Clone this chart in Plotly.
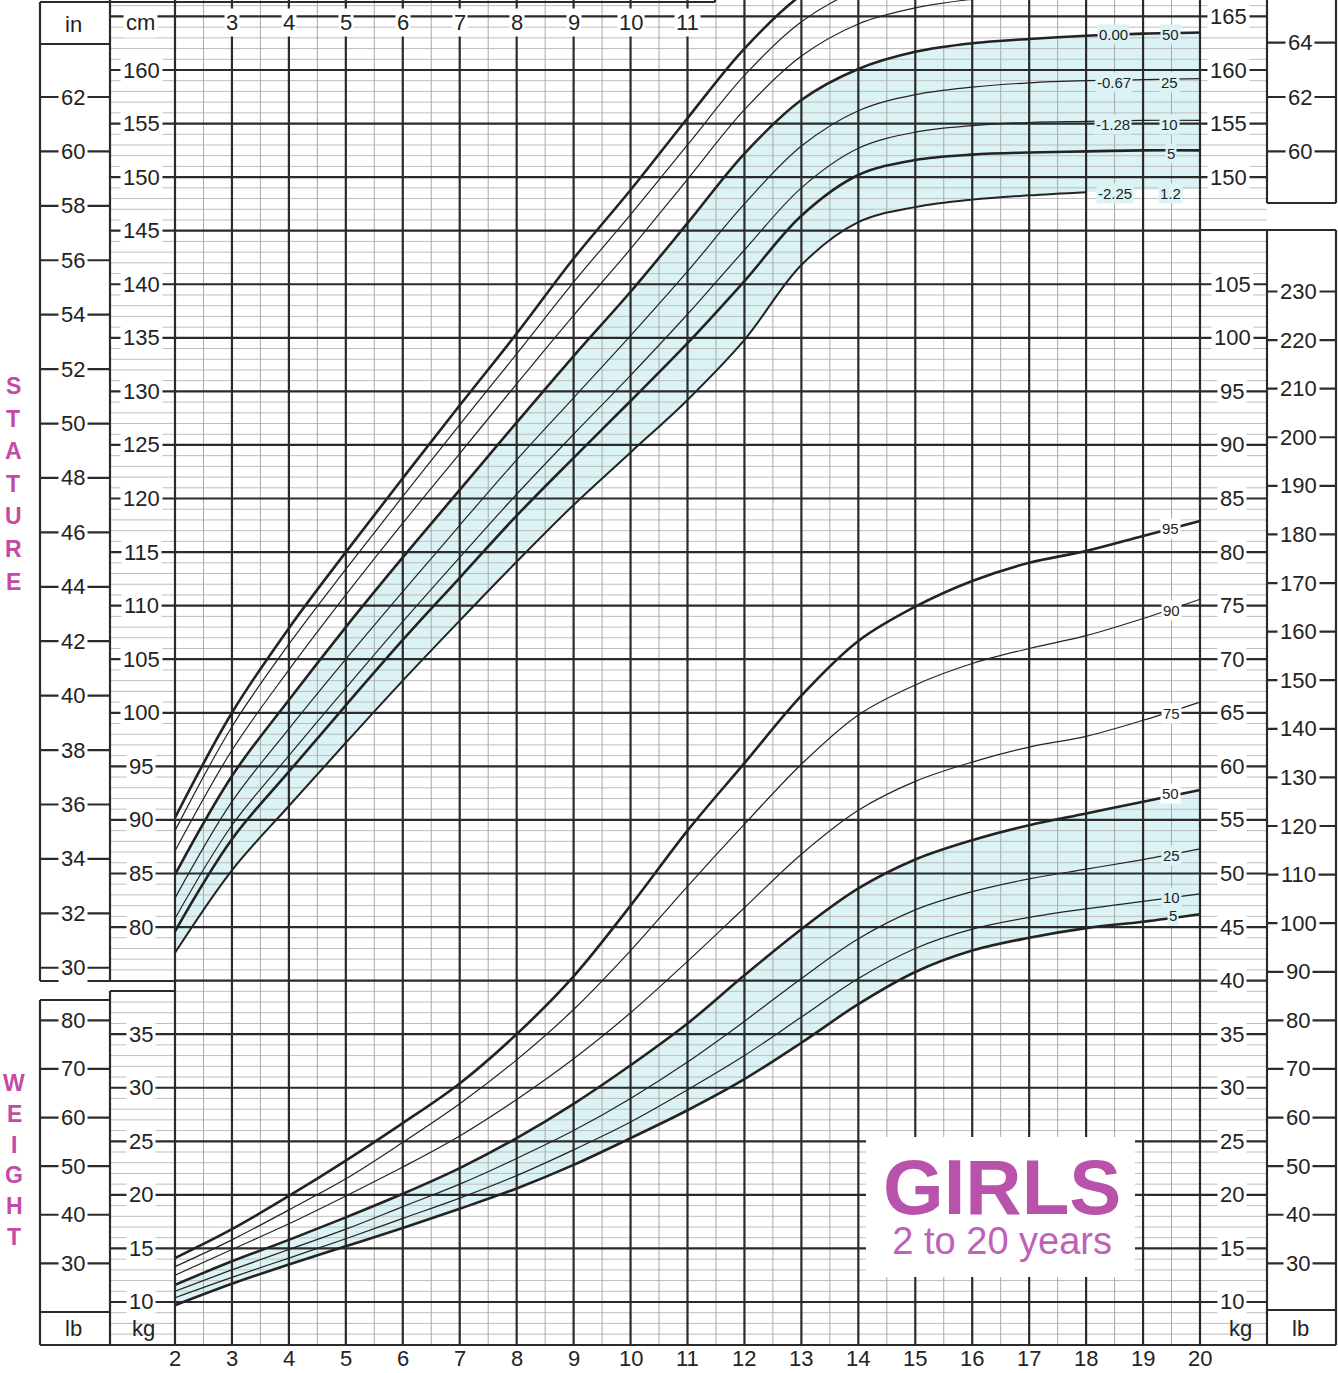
import plotly.graph_objects as go

# ---------------- data ----------------
ages = [2, 3, 4, 5, 6, 7, 8, 9, 10, 11, 12, 13, 14, 15, 16, 17, 18, 19, 20]

# stature-for-age percentiles (cm)
stature_p95 = [90.2, 100.0, 107.9, 115.0, 121.9, 128.7, 135.4, 142.4, 148.8, 155.5, 162.0, 167.0, 169.9, 171.5, 172.3, 172.8, 173.2, 173.5, 173.8]
stature_p90 = [89.0, 98.7, 106.4, 113.4, 120.2, 126.9, 133.5, 140.2, 146.5, 153.0, 159.5, 164.5, 167.5, 169.1, 170.0, 170.5, 170.9, 171.2, 171.4]
stature_p75 = [87.1, 96.5, 104.0, 111.0, 117.7, 124.2, 130.7, 137.1, 143.3, 149.8, 156.3, 161.3, 164.3, 165.8, 166.6, 167.1, 167.4, 167.6, 167.7]
stature_p50 = [84.9, 94.1, 101.2, 108.0, 114.5, 120.8, 127.1, 133.3, 139.3, 145.7, 152.2, 157.2, 160.1, 161.7, 162.5, 162.9, 163.2, 163.4, 163.5]
stature_p25 = [82.7, 91.7, 98.5, 105.0, 111.3, 117.5, 123.6, 129.4, 135.2, 141.2, 147.5, 152.9, 156.2, 157.7, 158.4, 158.8, 159.0, 159.1, 159.2]
stature_p10 = [80.8, 89.5, 96.0, 102.3, 108.5, 114.5, 120.4, 126.0, 131.5, 137.2, 143.2, 149.0, 152.7, 154.2, 154.8, 155.1, 155.2, 155.3, 155.3]
stature_p5 = [79.6, 88.2, 94.5, 100.7, 106.8, 112.6, 118.4, 123.8, 129.1, 134.5, 140.3, 146.4, 150.2, 151.6, 152.1, 152.3, 152.4, 152.5, 152.5]
stature_p1_2 = [77.6, 85.3, 91.3, 97.2, 103.0, 108.6, 114.1, 119.4, 124.3, 129.2, 134.8, 141.8, 145.8, 147.2, 147.9, 148.3, 148.6, 148.8, 148.9]

# weight-for-age percentiles (kg)
weight_p95 = [14.1, 16.8, 19.9, 23.2, 26.7, 30.4, 35.0, 40.4, 47.0, 54.0, 60.3, 66.6, 71.7, 74.9, 77.3, 79.0, 80.1, 81.5, 82.9]
weight_p90 = [13.3, 15.8, 18.6, 21.5, 24.9, 28.5, 32.6, 37.3, 42.8, 48.8, 54.6, 60.2, 64.8, 67.6, 69.6, 71.0, 72.2, 73.8, 75.6]
weight_p75 = [12.5, 14.9, 17.3, 19.9, 22.6, 25.5, 28.9, 32.7, 37.0, 41.8, 46.8, 51.8, 55.9, 58.6, 60.4, 61.8, 62.8, 64.3, 66.0]
weight_p50 = [11.6, 13.8, 15.8, 17.9, 20.1, 22.5, 25.3, 28.5, 32.1, 36.0, 40.5, 44.8, 48.6, 51.3, 53.1, 54.5, 55.6, 56.7, 57.8]
weight_p25 = [11.0, 13.0, 14.9, 16.8, 18.9, 21.0, 23.4, 26.0, 29.0, 32.4, 36.2, 40.2, 43.9, 46.6, 48.3, 49.5, 50.4, 51.3, 52.3]
weight_p10 = [10.4, 12.3, 14.1, 15.9, 17.8, 19.7, 21.8, 24.2, 26.8, 29.8, 33.0, 36.6, 40.2, 43.0, 44.8, 45.9, 46.7, 47.4, 48.1]
weight_p5 = [9.7, 11.7, 13.5, 15.2, 16.9, 18.7, 20.6, 22.8, 25.3, 27.9, 30.8, 34.2, 37.8, 40.8, 42.8, 44.0, 44.9, 45.5, 46.2]

# axis tick labels
left_in_ticks = [30, 32, 34, 36, 38, 40, 42, 44, 46, 48, 50, 52, 54, 56, 58, 60, 62]
left_cm_ticks = [80, 85, 90, 95, 100, 105, 110, 115, 120, 125, 130, 135, 140, 145, 150, 155, 160]
left_lb_ticks = [30, 40, 50, 60, 70, 80]
left_kg_ticks = [10, 15, 20, 25, 30, 35]
right_cm_ticks = [150, 155, 160, 165]
right_in_ticks = [60, 62, 64]
right_kg_ticks = [10, 15, 20, 25, 30, 35, 40, 45, 50, 55, 60, 65, 70, 75, 80, 85, 90, 95, 100, 105]
right_lb_ticks = [30, 40, 50, 60, 70, 80, 90, 100, 110, 120, 130, 140, 150, 160, 170, 180, 190, 200, 210, 220, 230]
header_ages = [3, 4, 5, 6, 7, 8, 9, 10, 11]
bottom_ages = ages

# ---------------- geometry ----------------
W, H = 1338, 1373
KG_OFFSET = 35            # weight (kg) shares the vertical scale: v = kg + 35
IN_CM = 2.54
LB_KG = 0.45359237
PX_YEAR = (1200 - 175) / 18.0
PX_UNIT = 10.713
FONT = "Liberation Sans, Arial, Helvetica, sans-serif"
INK = "#232323"
FILL = "#dcf3f6"
MAG = "#b952ab"

def xd(px):
    return 2 + (px - 175) / PX_YEAR

def yd(py):
    return 160 - (py - 70) / PX_UNIT

def wv(kg):
    return kg + KG_OFFSET

fig = go.Figure()

def seg_trace(segs, color, width):
    xs, ys = [], []
    for xa, ya, xb, yb in segs:
        xs += [xa, xb, None]
        ys += [ya, yb, None]
    return go.Scatter(x=xs, y=ys, mode="lines", line=dict(color=color, width=width),
                      hoverinfo="skip", showlegend=False)

# ---------------- shaded bands ----------------
fig.add_trace(go.Scatter(x=ages, y=stature_p1_2, mode="lines", line=dict(width=0, shape="spline"),
                         hoverinfo="skip", showlegend=False))
fig.add_trace(go.Scatter(x=ages, y=stature_p50, mode="lines", fill="tonexty", fillcolor=FILL,
                         line=dict(width=0, shape="spline"), hoverinfo="skip", showlegend=False))
fig.add_trace(go.Scatter(x=ages, y=[wv(v) for v in weight_p5], mode="lines", line=dict(width=0, shape="spline"),
                         hoverinfo="skip", showlegend=False))
fig.add_trace(go.Scatter(x=ages, y=[wv(v) for v in weight_p50], mode="lines", fill="tonexty", fillcolor=FILL,
                         line=dict(width=0, shape="spline"), hoverinfo="skip", showlegend=False))

# ---------------- grid ----------------
ytop, ybot = yd(0), yd(1345)
minor_h = [(xd(110), v, xd(1267), v) for v in range(42, 167)]
minor_v = [(a + 0.5, ytop, a + 0.5, ybot) for a in range(2, 20)]
fig.add_trace(seg_trace(minor_h, "#bdbdbd", 1))
fig.add_trace(seg_trace(minor_v, "#a9a9a9", 1))

major = [(xd(175), v, xd(1200), v) for v in range(45, 166, 5)]
major += [(a, ytop, a, ybot) for a in range(2, 21)]
left_ext = set(left_cm_ticks + [165] + [wv(k) for k in left_kg_ticks])
right_ext = set(right_cm_ticks + [wv(k) for k in right_kg_ticks])
major += [(xd(110), v, xd(175), v) for v in left_ext]
major += [(xd(1200), v, xd(1267), v) for v in right_ext]
# unit-column ticks
major += [(xd(40), t * IN_CM, xd(110), t * IN_CM) for t in left_in_ticks]
major += [(xd(40), wv(t * LB_KG), xd(110), wv(t * LB_KG)) for t in left_lb_ticks]
major += [(xd(1267), t * IN_CM, xd(1336), t * IN_CM) for t in right_in_ticks]
major += [(xd(1267), wv(t * LB_KG), xd(1336), wv(t * LB_KG)) for t in right_lb_ticks]
# frames
frames = [
    (xd(40), yd(2), xd(715), yd(2)), (xd(715), yd(0), xd(715), yd(2)),
    (xd(40), yd(2), xd(40), yd(981)), (xd(110), yd(0), xd(110), yd(981)),
    (xd(40), yd(44), xd(110), yd(44)), (xd(40), yd(981), xd(175), yd(981)),
    (xd(40), yd(1000), xd(110), yd(1000)), (xd(110), yd(991), xd(175), yd(991)),
    (xd(40), yd(1000), xd(40), yd(1345)), (xd(110), yd(991), xd(110), yd(1345)),
    (xd(40), yd(1312), xd(110), yd(1312)), (xd(40), yd(1345), xd(1336), yd(1345)),
    (xd(1267), yd(0), xd(1267), yd(203)), (xd(1336), yd(0), xd(1336), yd(203)),
    (xd(1267), yd(203), xd(1336), yd(203)), (xd(1200), yd(230), xd(1336), yd(230)),
    (xd(1267), yd(230), xd(1267), yd(1345)), (xd(1336), yd(230), xd(1336), yd(1345)),
    (xd(1267), yd(1310), xd(1336), yd(1310)),
]
major += frames
fig.add_trace(seg_trace(major, "#2b2b2b", 2.2))

# ---------------- curves ----------------
def curve(y, width, upto=None):
    xs = ages if upto is None else [a for a in ages if a <= upto]
    ys = y[:len(xs)]
    fig.add_trace(go.Scatter(x=xs, y=ys, mode="lines", line=dict(color=INK, width=width, shape="spline", smoothing=1.0),
                             hoverinfo="skip", showlegend=False))

THICK, THIN = 2.6, 1.2
curve(stature_p95, THICK)
curve(stature_p90, THIN)
curve(stature_p75, THIN)
curve(stature_p50, THICK)
curve(stature_p25, THIN)
curve(stature_p10, THIN)
curve(stature_p5, THICK)
curve(stature_p1_2, 2.0, upto=18)

curve([wv(v) for v in weight_p95], THICK)
curve([wv(v) for v in weight_p90], THIN)
curve([wv(v) for v in weight_p75], THIN)
curve([wv(v) for v in weight_p50], THICK)
curve([wv(v) for v in weight_p25], THIN)
curve([wv(v) for v in weight_p10], THIN)
curve([wv(v) for v in weight_p5], THICK)

# ---------------- GIRLS box ----------------
fig.add_shape(type="rect", x0=xd(866), x1=xd(1135), y0=yd(1137), y1=yd(1277),
              fillcolor="white", line=dict(width=0), layer="above")

# ---------------- annotations ----------------
def label(xpx, v, text, size=22, bg="white", color=INK, bold=False, pad=2):
    fig.add_annotation(x=xd(xpx), y=v, text=("<b>%s</b>" % text) if bold else text, showarrow=False,
                       font=dict(size=size, color=color, family=FONT), bgcolor=bg, borderpad=pad,
                       xanchor="center", yanchor="middle")

for t in left_in_ticks:
    label(73, t * IN_CM, str(t))
for t in left_cm_ticks:
    label(141, t, str(t))
for t in left_lb_ticks:
    label(73, wv(t * LB_KG), str(t))
for t in left_kg_ticks:
    label(141, wv(t), str(t))
for t in right_cm_ticks:
    label(1228, t, str(t))
for t in right_in_ticks:
    label(1300, t * IN_CM, str(t))
for t in right_kg_ticks:
    label(1232, wv(t), str(t))
for t in right_lb_ticks:
    label(1298, wv(t * LB_KG), str(t))
for a in header_ages:
    fig.add_annotation(x=a, y=yd(22), text=str(a), showarrow=False, bgcolor="white", borderpad=1,
                       font=dict(size=22, color=INK, family=FONT))
for a in bottom_ages:
    fig.add_annotation(x=a, y=yd(1372), text=str(a), showarrow=False, yanchor="bottom", borderpad=0,
                       font=dict(size=22, color=INK, family=FONT))

label(73, yd(24), "in")
label(140, yd(22), "cm")
label(73, yd(1328), "lb")
label(143, yd(1328), "kg", bg="rgba(0,0,0,0)")
label(1240, yd(1328), "kg", bg="rgba(0,0,0,0)")
label(1300, yd(1328), "lb")

# curve end labels - stature
SMALL = 15
for xpx, ypx, txt in [(1113, 34, "0.00"), (1170, 34, "50"), (1114, 82, "-0.67"), (1169, 82, "25"),
                      (1113, 124, "-1.28"), (1169, 124, "10"), (1171, 153, "5"),
                      (1115, 193, "-2.25"), (1170, 193, "1.2")]:
    label(xpx, yd(ypx), txt, size=SMALL, bg=FILL, pad=1)
# curve end labels - weight
for xpx, ypx, txt, bg in [(1170, 528, "95", "white"), (1171, 610, "90", "white"), (1171, 713, "75", "white"),
                          (1170, 793, "50", "white"), (1171, 855, "25", FILL), (1171, 897, "10", FILL),
                          (1173, 915, "5", FILL)]:
    label(xpx, yd(ypx), txt, size=SMALL, bg=bg, pad=1)

# side titles
for i, ch in enumerate("STATURE"):
    label(13, yd(386 + i * 32.6), ch, size=23, bg="rgba(0,0,0,0)", color="#c44aa6", bold=True, pad=0)
for i, ch in enumerate("WEIGHT"):
    label(14, yd(1083 + i * 30.8), ch, size=23, bg="rgba(0,0,0,0)", color="#c44aa6", bold=True, pad=0)

# GIRLS title (one text block, two lines)
fig.add_annotation(
    x=xd(1002), y=yd(1202), xanchor="center", yanchor="middle", showarrow=False, borderpad=0,
    text=("<span style='font-size:78px;color:%s'><b>GIRLS</b></span><br>"
          "<span style='font-size:38px;color:#c060b8'>2 to 20 years</span>") % MAG,
    font=dict(size=31, color=MAG, family=FONT))

fig.update_layout(
    width=W, height=H, margin=dict(l=0, r=0, t=0, b=0),
    paper_bgcolor="white", plot_bgcolor="white", showlegend=False,
    xaxis=dict(range=[xd(0), xd(W)], visible=False, fixedrange=True),
    yaxis=dict(range=[yd(H), yd(0)], visible=False, fixedrange=True),
)

fig.write_html("out.html", post_script="document.body.style.margin='0';document.body.style.overflow='hidden';",
               config={"displayModeBar": False})
